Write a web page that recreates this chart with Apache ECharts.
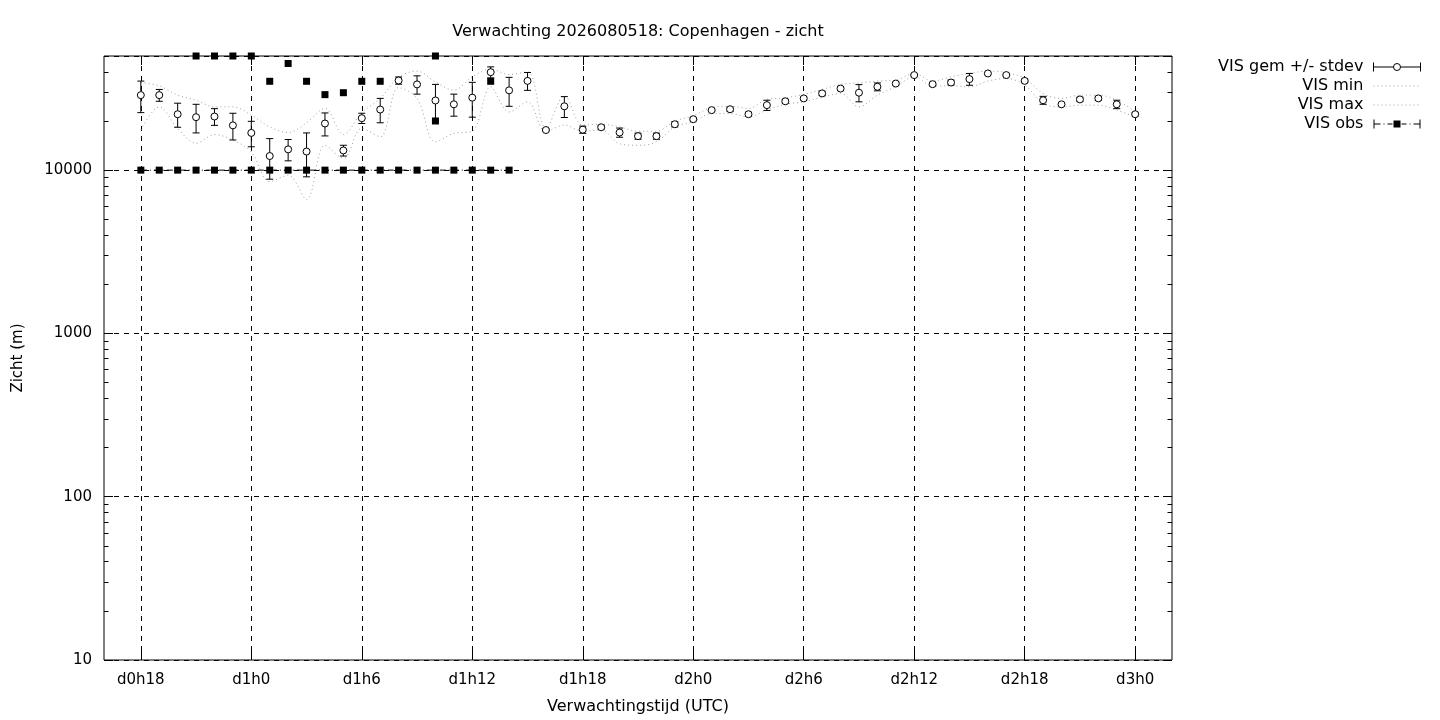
<!DOCTYPE html>
<html>
<head>
<meta charset="utf-8">
<title>Verwachting Copenhagen - zicht</title>
<script src="https://cdn.jsdelivr.net/npm/echarts@6/dist/echarts.min.js"></script>
<style>
  html, body { margin: 0; padding: 0; background: #fff; }
  #main { width: 1440px; height: 720px; }
</style>
</head>
<body>
<div id="main"></div>
<script>
// forecast hour (from base time) of every ensemble point
var hours = [18, 19, 20, 21, 22, 23, 24, 25, 26, 27, 28, 29, 30, 31, 32, 33, 34, 35, 36, 37, 38, 39,
  40, 41, 42, 43, 44, 45, 46, 47, 48, 49, 50, 51, 52, 53, 54, 55, 56, 57, 58, 59, 60, 61, 62, 63, 64,
  65, 66, 67, 68, 69, 70, 71, 72];

// VIS gem (mean) and stdev
var gemVals = [28800, 28800, 22000, 21100, 21300, 18800, 16900, 12200, 13400, 13000, 19300, 13200,
  20800, 23500, 35400, 33500, 26700, 25300, 27800, 39800, 30800, 35200,
  17600, 24600, 17700, 18300, 17000, 16150, 16150, 19100, 20500, 23300, 23600, 22000,
  25000, 26400, 27500, 29500, 31600, 29800, 32400, 33900, 38200, 33600, 34400,
  36100, 39100, 38200, 35200, 26800, 25300, 27100, 27500, 25300, 22000];
var gemStdev = [6300, 2400, 3700, 4200, 2500, 3500, 3000, 3400, 2000, 3900, 3100, 1000,
  1500, 4000, 1800, 4300, 6800, 3900, 6700, 3100, 6200, 4400,
  300, 3600, 900, 500, 1100, 700, 700, 700, 500, 400, 700, 600,
  1800, 700, 600, 900, 900, 3600, 1800, 700, 500, 900, 1200,
  3000, 400, 500, 900, 1500, 400, 800, 800, 1500, 500];

// VIS min / max of the ensemble
var minVals = [17600, 24400, 18000, 14600, 16500, 15300, 12900, 8500, 9300, 6600, 14200, 11800,
  18000, 16000, 32000, 27500, 14900, 16800, 17300, 32400, 22700, 26200,
  17200, 18900, 17300, 17600, 14500, 14200, 14900, 18400, 19800, 22200, 22200, 21200,
  23300, 25300, 26200, 27900, 29500, 24400, 28800, 32400, 37300, 32800, 32800,
  32400, 35100, 36400, 33200, 25600, 24400, 25000, 25000, 23300, 21200];
var maxVals = [34400, 32800, 28800, 26800, 24400, 24400, 21700, 18400, 17000, 19500, 23900, 16500,
  22500, 27500, 37000, 40400, 34700, 30900, 37300, 41500, 38500, 40000,
  18000, 28500, 18900, 19100, 18400, 17300, 17300, 20000, 21500, 24200, 24600, 23900,
  27100, 27700, 29100, 31200, 33500, 34200, 35100, 35600, 39100, 35100, 37300,
  39100, 40400, 39600, 36400, 29500, 27500, 28800, 28800, 26800, 22700];

// VIS obs
var obsHours = [18, 19, 20, 21, 22, 23, 24, 25, 26, 27, 28, 29, 30, 31, 32, 33, 34, 35, 36, 37, 38];
var obsVals = [10000, 10000, 10000, 10000, 10000, 10000, 10000, 10000, 10000, 10000, 10000,
  10000, 10000, 10000, 10000, 10000, 10000, 10000, 10000, 10000, 10000];
var obsExtraHours = [21, 22, 23, 24, 25, 26, 27, 28, 29, 30, 31, 34, 34, 37];
var obsExtraVals = [50000, 50000, 50000, 50000, 35000, 45000, 35000, 29000, 29800, 35000, 35000,
  50000, 20000, 35000];

// axis ticks
var xTickHours = [18, 24, 30, 36, 42, 48, 54, 60, 66, 72];
var yMinorTicks = [20, 30, 40, 50, 60, 70, 80, 90, 200, 300, 400, 500, 600, 700, 800, 900,
  2000, 3000, 4000, 5000, 6000, 7000, 8000, 9000, 20000, 30000, 40000];

var FONT = 'DejaVu Sans';
var chart = echarts.init(document.getElementById('main'));

var gemData = hours.map(function (h, i) { return [h, gemVals[i]]; });
var errData = hours.map(function (h, i) { return [h, gemVals[i] - gemStdev[i], gemVals[i] + gemStdev[i]]; });
var minData = hours.map(function (h, i) { return [h, minVals[i]]; });
var maxData = hours.map(function (h, i) { return [h, maxVals[i]]; });
var obsData = obsHours.map(function (h, i) { return [h, obsVals[i]]; });
var obsExtraData = obsExtraHours.map(function (h, i) { return [h, obsExtraVals[i]]; });

var yMax = 50000;
var logMinor = yMinorTicks.map(function (v) { return Math.log10(v); });

function hourLabel(v) {
  return 'd' + Math.floor(v / 24) + 'h' + (v % 24);
}

// legend samples in gnuplot style (47 x 9 box, filled shapes)
var box = 'M0,0L0,0M47,9L47,9';
var dotted = box;
for (var dx = 0; dx < 47; dx += 4) {
  dotted += 'M' + dx + ',4L' + (dx + 1) + ',4L' + (dx + 1) + ',5L' + dx + ',5Z';
}
var obsIcon = box +
  'M0,0L1,0L1,9L0,9Z M46,0L47,0L47,9L46,9Z' +
  'M1,4L7,4L7,5L1,5Z M10,4L11,4L11,5L10,5Z M14,4L19,4L19,5L14,5Z' +
  'M20,1L27,1L27,8L20,8Z' +
  'M28,4L33,4L33,5L28,5Z M36,4L37,4L37,5L36,5Z M40,4L46,4L46,5L40,5Z';

var option = {
  animation: false,
  backgroundColor: '#fff',
  textStyle: { fontFamily: FONT },
  title: {
    text: 'Verwachting 2026080518: Copenhagen - zicht',
    left: 633,
    top: 19,
    textAlign: 'center',
    textStyle: { fontFamily: FONT, fontSize: 16, fontWeight: 'normal', color: '#000' }
  },
  legend: {
    orient: 'vertical',
    right: 14,
    top: 54,
    align: 'right',
    itemWidth: 47,
    itemHeight: 9,
    itemGap: 3,
    textStyle: { fontFamily: FONT, fontSize: 16, color: '#000' },
    formatter: function (name) { return name + ' '; },
    data: [
      {
        name: 'VIS gem +/- stdev',
        icon: 'path://M0,0L0,9M0,4.5L20,4.5M27,4.5L47,4.5M47,0L47,9M20,4.5A3.5,3.5,0,1,1,27,4.5A3.5,3.5,0,1,1,20,4.5',
        itemStyle: { color: '#fff', borderColor: '#000', borderWidth: 1 }
      },
      { name: 'VIS min', icon: 'path://' + dotted, itemStyle: { color: '#a0a0a0', borderWidth: 0 } },
      { name: 'VIS max', icon: 'path://' + dotted, itemStyle: { color: '#a0a0a0', borderWidth: 0 } },
      { name: 'VIS obs', icon: 'path://' + obsIcon, itemStyle: { color: '#000', borderWidth: 0 } }
    ]
  },
  grid: {
    left: 104, right: 268, top: 56, bottom: 60,
    show: true, borderColor: '#000', borderWidth: 1, backgroundColor: 'transparent'
  },
  xAxis: [
    {
      type: 'value', min: 16, max: 74, position: 'bottom',
      name: 'Verwachtingstijd (UTC)', nameLocation: 'middle', nameGap: 39,
      nameTextStyle: { fontFamily: FONT, fontSize: 16, color: '#000' },
      axisLine: { show: false },
      axisTick: { inside: true, length: 9, customValues: xTickHours, lineStyle: { color: '#000' } },
      axisLabel: {
        customValues: xTickHours, margin: 13, formatter: hourLabel,
        fontFamily: FONT, fontSize: 15, color: '#000'
      },
      splitLine: { show: true, lineStyle: { color: '#000', type: [5, 5], width: 1 } }
    },
    {
      type: 'value', min: 16, max: 74, position: 'top',
      axisLine: { show: false },
      axisTick: { inside: true, length: 9, customValues: xTickHours, lineStyle: { color: '#000' } },
      axisLabel: { show: false },
      splitLine: { show: false }
    }
  ],
  yAxis: [
    {
      type: 'log', logBase: 10, min: 10, max: yMax, position: 'left',
      name: 'Zicht (m)', nameLocation: 'middle', nameGap: 78, nameRotate: 90,
      nameTextStyle: { fontFamily: FONT, fontSize: 15, color: '#000' },
      axisLine: { show: false },
      axisTick: { inside: true, length: 9, lineStyle: { color: '#000' } },
      axisLabel: {
        margin: 12, showMaxLabel: false, fontFamily: FONT, fontSize: 15, color: '#000',
        formatter: function (v) { return String(Math.round(v)); }
      },
      splitLine: { show: true, lineStyle: { color: '#000', type: [5, 5], width: 1 } }
    },
    {
      type: 'value', min: 1, max: Math.log10(yMax), position: 'left',
      axisLine: { show: false },
      axisTick: { inside: true, length: 4.5, customValues: logMinor, lineStyle: { color: '#000' } },
      axisLabel: { show: false },
      splitLine: { show: false }
    },
    {
      type: 'log', logBase: 10, min: 10, max: yMax, position: 'right',
      axisLine: { show: false },
      axisTick: { inside: true, length: 9, lineStyle: { color: '#000' } },
      axisLabel: { show: false },
      splitLine: { show: false }
    },
    {
      type: 'value', min: 1, max: Math.log10(yMax), position: 'right',
      axisLine: { show: false },
      axisTick: { inside: true, length: 4.5, customValues: logMinor, lineStyle: { color: '#000' } },
      axisLabel: { show: false },
      splitLine: { show: false }
    }
  ],
  series: [
    {
      name: 'VIS min', type: 'line', data: minData, smooth: 0.35,
      symbol: 'none', z: 2,
      lineStyle: { color: '#a0a0a0', width: 1, type: [1, 3] },
      itemStyle: { color: '#a0a0a0' }
    },
    {
      name: 'VIS max', type: 'line', data: maxData, smooth: 0.35,
      symbol: 'none', z: 2,
      lineStyle: { color: '#a0a0a0', width: 1, type: [1, 3] },
      itemStyle: { color: '#a0a0a0' }
    },
    {
      name: 'VIS obs', type: 'line', data: obsData,
      symbol: 'rect', symbolSize: 7, z: 3,
      lineStyle: { color: '#000', width: 1, type: [6, 3, 1, 3] },
      itemStyle: { color: '#000', opacity: 1 }
    },
    {
      name: 'VIS obs', type: 'scatter', data: obsExtraData,
      symbol: 'rect', symbolSize: 7, z: 3,
      itemStyle: { color: '#000', opacity: 1 }
    },
    {
      name: 'VIS gem +/- stdev', type: 'custom', data: errData, z: 4,
      encode: { x: 0, y: [1, 2] },
      renderItem: function (params, api) {
        var x = api.value(0);
        var lo = api.coord([x, api.value(1)]);
        var hi = api.coord([x, api.value(2)]);
        var w = 3.5;
        var st = { stroke: '#000', lineWidth: 1 };
        return {
          type: 'group',
          children: [
            { type: 'line', shape: { x1: lo[0], y1: lo[1], x2: hi[0], y2: hi[1] }, style: st },
            { type: 'line', shape: { x1: lo[0] - w, y1: lo[1], x2: lo[0] + w, y2: lo[1] }, style: st },
            { type: 'line', shape: { x1: hi[0] - w, y1: hi[1], x2: hi[0] + w, y2: hi[1] }, style: st }
          ]
        };
      }
    },
    {
      name: 'VIS gem +/- stdev', type: 'scatter', data: gemData, z: 5,
      symbol: 'circle', symbolSize: 7,
      itemStyle: { color: '#fff', borderColor: '#000', borderWidth: 1, opacity: 1 }
    }
  ]
};

chart.setOption(option);
</script>
</body>
</html>
